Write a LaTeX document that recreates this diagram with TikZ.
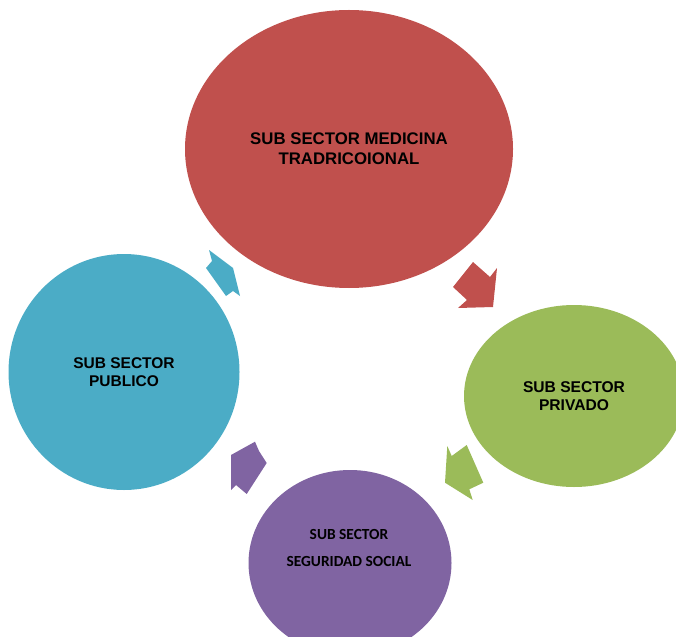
\documentclass[tikz,border=0pt]{standalone}
\usepackage{fontspec}
\setmainfont{Liberation Sans}
\newfontfamily\carlitofont{Carlito}
\usetikzlibrary{shapes.geometric}

\definecolor{medred}{HTML}{C0504D}
\definecolor{privgreen}{HTML}{9BBB59}
\definecolor{segpurple}{HTML}{8064A2}
\definecolor{pubblue}{HTML}{4BACC6}

\begin{document}
\begin{tikzpicture}[x=1pt, y=-1pt,
  bubble/.style={ellipse, inner sep=0pt, align=center, text=black},
  sectorlabel/.style={inner sep=0pt, align=center, text=black},
  cyclearrow/.style={draw=none}
]
% canvas (shapes running past the edge are cut off)
\clip (0,0) rectangle (676,636);

% the four sub sectors
\node[bubble, fill=medred, minimum width=328pt, minimum height=278pt,
      font=\bfseries\fontsize{16.8}{20}\selectfont] (med) at (349,149)
      {SUB SECTOR MEDICINA\\TRADRICOIONAL};
\node[bubble, fill=privgreen, minimum width=220pt, minimum height=182pt,
      font=\bfseries\fontsize{15.6}{18.5}\selectfont] (priv) at (574,396)
      {SUB SECTOR\\PRIVADO};
\node[bubble, fill=segpurple, minimum width=203pt, minimum height=186pt] (seg) at (350,563) {};
\node[sectorlabel, font=\carlitofont\bfseries\fontsize{15.4}{27}\selectfont] (segtext) at (349,548)
      {SUB SECTOR\\SEGURIDAD SOCIAL};
\node[bubble, fill=pubblue, minimum width=231pt, minimum height=236pt,
      font=\bfseries\fontsize{15.5}{18.5}\selectfont] (pub) at (124,372)
      {SUB SECTOR\\PUBLICO};

% block arrows between the sectors
\fill[cyclearrow, medred] (473,262) -- (490,277) -- (497,268) -- (493,307)
  -- (458,308) -- (467,300) -- (453,287) -- cycle;
\fill[cyclearrow, privgreen] (466.7,445) -- (451.7,456) -- (447.3,446) -- (445,482.7)
  -- (472.7,500) -- (469.3,489.3) -- (483.3,482.7) -- cycle;
\fill[cyclearrow, segpurple] (266.7,463) -- (259,451) -- (255,441.7) -- (231,455)
  -- (231,490) -- (236,485) -- (246.7,494) -- cycle;
\fill[cyclearrow, pubblue] (206,268) -- (212,261) -- (209,250) -- (233,268)
  -- (240,296) -- (233,291) -- (226,296) -- cycle;
\end{tikzpicture}
\end{document}
